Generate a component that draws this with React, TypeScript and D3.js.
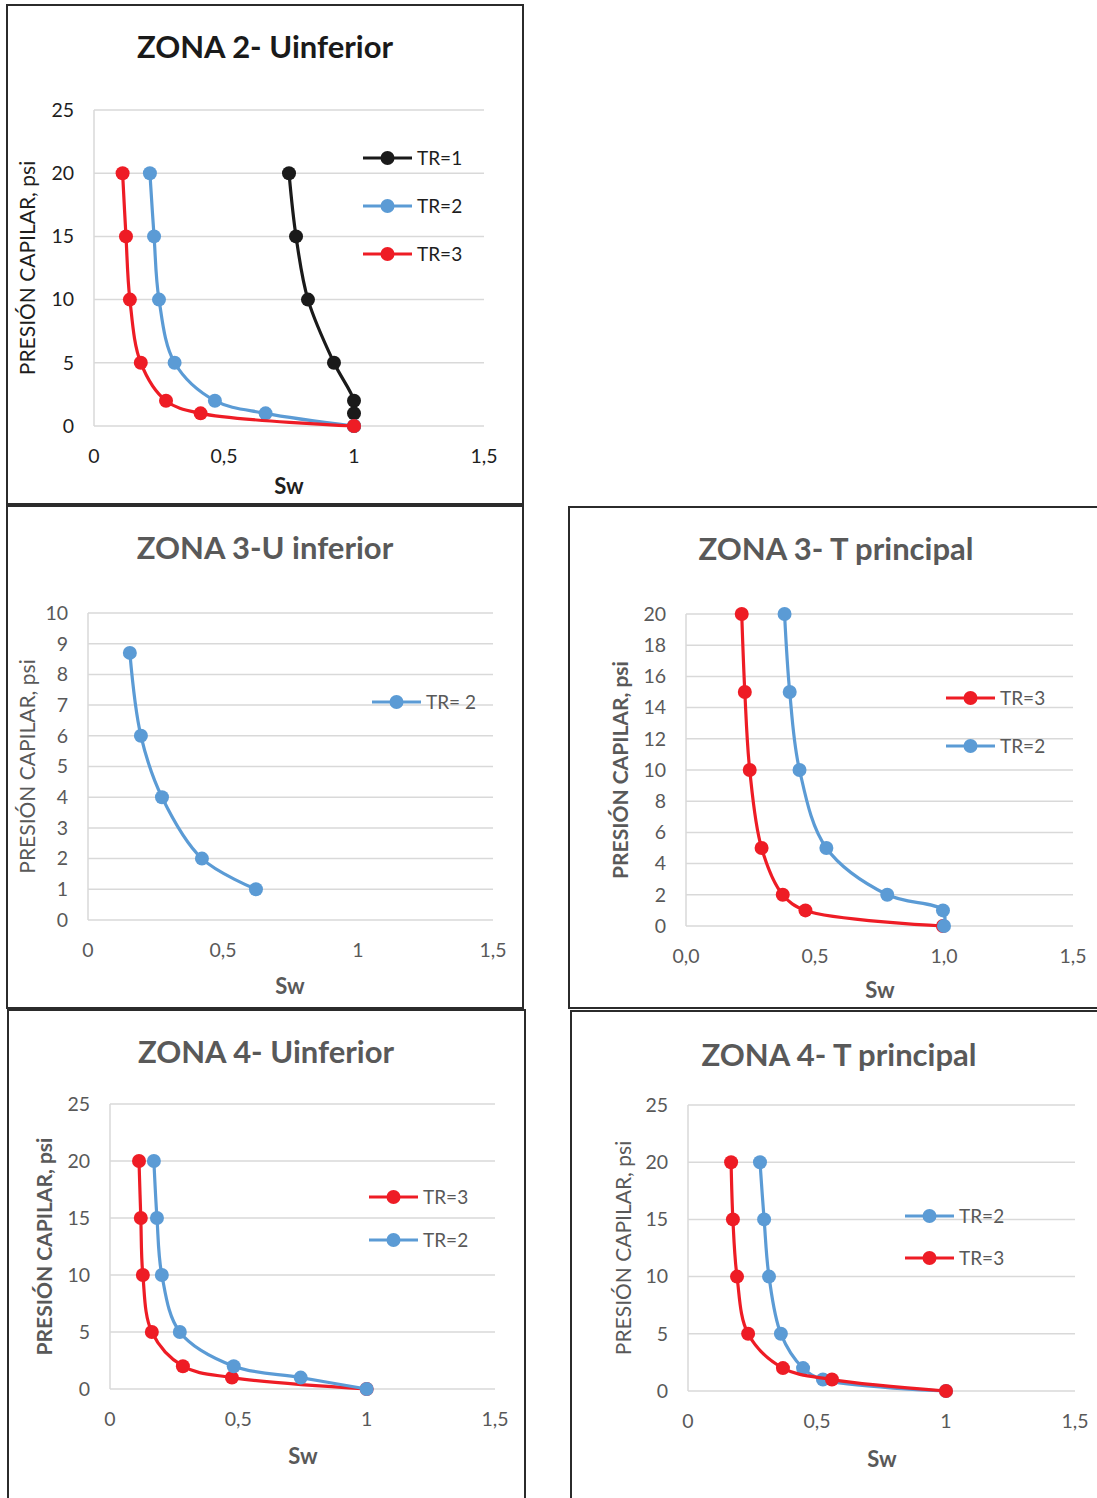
import React from "react";
import * as d3 from "d3";

// Datos (Sw, presión capilar psi)
const z2_tr1_sw = [0.75, 0.777, 0.823, 0.923, 1.0, 1.0, 1.0];
const z2_tr1_pc = [20, 15, 10, 5, 2, 1, 0];
const z2_tr2_sw = [0.215, 0.231, 0.25, 0.31, 0.465, 0.66, 1.0];
const z2_tr2_pc = [20, 15, 10, 5, 2, 1, 0];
const z2_tr3_sw = [0.11, 0.123, 0.138, 0.18, 0.277, 0.41, 1.0];
const z2_tr3_pc = [20, 15, 10, 5, 2, 1, 0];

const z3u_tr2_sw = [0.155, 0.196, 0.274, 0.422, 0.622];
const z3u_tr2_pc = [8.7, 6, 4, 2, 1];

const z3t_tr3_sw = [0.216, 0.228, 0.247, 0.293, 0.375, 0.463, 0.996];
const z3t_tr3_pc = [20, 15, 10, 5, 2, 1, 0];
const z3t_tr2_sw = [0.382, 0.402, 0.44, 0.544, 0.78, 0.996, 1.0];
const z3t_tr2_pc = [20, 15, 10, 5, 2, 1, 0];

const z4u_tr3_sw = [0.113, 0.12, 0.128, 0.163, 0.284, 0.475, 1.0];
const z4u_tr3_pc = [20, 15, 10, 5, 2, 1, 0];
const z4u_tr2_sw = [0.171, 0.183, 0.202, 0.272, 0.482, 0.743, 1.0];
const z4u_tr2_pc = [20, 15, 10, 5, 2, 1, 0];

const z4t_tr2_sw = [0.279, 0.295, 0.314, 0.36, 0.446, 0.523, 1.0];
const z4t_tr2_pc = [20, 15, 10, 5, 2, 1, 0];
const z4t_tr3_sw = [0.167, 0.174, 0.19, 0.233, 0.368, 0.558, 1.0];
const z4t_tr3_pc = [20, 15, 10, 5, 2, 1, 0];

const xTicks = [0, 0.5, 1, 1.5];
const yTicks25 = [0, 5, 10, 15, 20, 25];
const yTicks10 = [0, 1, 2, 3, 4, 5, 6, 7, 8, 9, 10];
const yTicks20 = [0, 2, 4, 6, 8, 10, 12, 14, 16, 18, 20];

const BLUE = "#5b9bd5";
const RED = "#ee1c25";
const BLACK = "#1a1a1a";
const GRAY = "#595959";
const FONT = "Lato, 'Open Sans', sans-serif";

const fmt1 = (d: number) => String(d).replace(".", ",");
const fmt2 = (d: number) => d.toFixed(1).replace(".", ",");

const panels = [
  {
    title: "ZONA 2- Uinferior", dark: true, yBold: false,
    frame: [7, 5, 523, 504], titleY: 47, titleX: 265,
    plot: [94, 484, 110, 426], yMax: 25, yTicks: yTicks25, xFmt: fmt1,
    yTitleX: 28, swY: 486, swX: 289,
    series: [
      { name: "TR=1", color: BLACK, sw: z2_tr1_sw, pc: z2_tr1_pc },
      { name: "TR=2", color: BLUE, sw: z2_tr2_sw, pc: z2_tr2_pc },
      { name: "TR=3", color: RED, sw: z2_tr3_sw, pc: z2_tr3_pc },
    ],
    drawOrder: [0, 1, 2],
    legend: { x: 363, y: 158, dy: 48 },
  },
  {
    title: "ZONA 3-U inferior", dark: false, yBold: false,
    frame: [7, 506, 523, 1008], titleY: 548, titleX: 265,
    plot: [88, 493, 613, 920], yMax: 10, yTicks: yTicks10, xFmt: fmt1,
    yTitleX: 28, swY: 986, swX: 290,
    series: [{ name: "TR= 2", color: BLUE, sw: z3u_tr2_sw, pc: z3u_tr2_pc }],
    drawOrder: [0],
    legend: { x: 372, y: 702, dy: 48 },
  },
  {
    title: "ZONA 3- T principal", dark: false, yBold: true,
    frame: [569, 507, 1100, 1008], titleY: 549, titleX: 836,
    plot: [686, 1073, 614, 926], yMax: 20, yTicks: yTicks20, xFmt: fmt2,
    yTitleX: 621, swY: 990, swX: 880,
    series: [
      { name: "TR=3", color: RED, sw: z3t_tr3_sw, pc: z3t_tr3_pc },
      { name: "TR=2", color: BLUE, sw: z3t_tr2_sw, pc: z3t_tr2_pc },
    ],
    drawOrder: [0, 1],
    legend: { x: 946, y: 698, dy: 48 },
  },
  {
    title: "ZONA 4- Uinferior", dark: false, yBold: true,
    frame: [8, 1010, 525, 1502], titleY: 1052, titleX: 266,
    plot: [110, 495, 1104, 1389], yMax: 25, yTicks: yTicks25, xFmt: fmt1,
    yTitleX: 45, swY: 1456, swX: 303,
    series: [
      { name: "TR=3", color: RED, sw: z4u_tr3_sw, pc: z4u_tr3_pc },
      { name: "TR=2", color: BLUE, sw: z4u_tr2_sw, pc: z4u_tr2_pc },
    ],
    drawOrder: [0, 1],
    legend: { x: 369, y: 1197, dy: 43 },
  },
  {
    title: "ZONA 4- T principal", dark: false, yBold: false,
    frame: [571, 1011, 1100, 1502], titleY: 1055, titleX: 839,
    plot: [688, 1075, 1105, 1391], yMax: 25, yTicks: yTicks25, xFmt: fmt1,
    yTitleX: 624, swY: 1459, swX: 882,
    series: [
      { name: "TR=2", color: BLUE, sw: z4t_tr2_sw, pc: z4t_tr2_pc },
      { name: "TR=3", color: RED, sw: z4t_tr3_sw, pc: z4t_tr3_pc },
    ],
    drawOrder: [0, 1],
    legend: { x: 905, y: 1216, dy: 42 },
  },
];

const Panel = ({ p }: { p: any }) => {
  const [x0, x1, y0, y1] = p.plot;
  const x = d3.scaleLinear().domain([0, 1.5]).range([x0, x1]);
  const y = d3.scaleLinear().domain([0, p.yMax]).range([y1, y0]);
  const line = d3
    .line<[number, number]>()
    .x((d) => x(d[0]))
    .y((d) => y(d[1]))
    .curve(d3.curveCatmullRom.alpha(0.5));
  const txt = p.dark ? "#1e1e1e" : GRAY;
  const [fx0, fy0, fx1, fy1] = p.frame;
  const yMid = (y0 + y1) / 2;
  return (
    <g>
      <rect x={fx0} y={fy0} width={fx1 - fx0} height={fy1 - fy0} fill="#fff" stroke="#2b2b2b" strokeWidth={2} />
      <text x={p.titleX} y={p.titleY} dy="0.35em" textAnchor="middle" fontSize={31} fontWeight="bold" fill={p.dark ? "#1a1a1a" : GRAY}>
        {p.title}
      </text>
      {p.yTicks.map((t: number) => (
        <g key={t}>
          <line x1={x0} x2={x1} y1={y(t)} y2={y(t)} stroke="#d9d9d9" strokeWidth={1.5} />
          <text x={x0 - 20} y={y(t)} dy="0.35em" textAnchor="end" fontSize={19.5} fill={txt}>
            {t}
          </text>
        </g>
      ))}
      <line x1={x0} x2={x0} y1={y0} y2={y1} stroke="#d9d9d9" strokeWidth={1.5} />
      {xTicks.map((t) => (
        <text key={t} x={x(t)} y={y1 + 30} dy="0.35em" textAnchor="middle" fontSize={19.5} fill={txt}>
          {p.xFmt(t)}
        </text>
      ))}
      <text
        transform={`translate(${p.yTitleX},${yMid}) rotate(-90)`}
        dy="0.35em"
        textAnchor="middle"
        fontSize={21}
        fontWeight={p.yBold ? "bold" : "normal"}
        fill={txt}
      >
        PRESIÓN CAPILAR, psi
      </text>
      <text x={p.swX} y={p.swY} dy="0.35em" textAnchor="middle" fontSize={22} fontWeight="bold" fill={txt}>
        Sw
      </text>
      {p.drawOrder.map((i: number) => {
        const s = p.series[i];
        const pts: [number, number][] = s.sw.map((v: number, k: number) => [v, s.pc[k]]);
        return (
          <g key={s.name}>
            <path d={line(pts) || ""} fill="none" stroke={s.color} strokeWidth={3.2} />
            {pts.map((d, k) => (
              <circle key={k} cx={x(d[0])} cy={y(d[1])} r={7} fill={s.color} />
            ))}
          </g>
        );
      })}
      {p.series.map((s: any, i: number) => {
        const ly = p.legend.y + i * p.legend.dy;
        return (
          <g key={"lg" + i}>
            <line x1={p.legend.x} x2={p.legend.x + 49} y1={ly} y2={ly} stroke={s.color} strokeWidth={3.2} />
            <circle cx={p.legend.x + 24.5} cy={ly} r={7} fill={s.color} />
            <text x={p.legend.x + 54} y={ly} dy="0.35em" fontSize={19} fill={txt}>
              {s.name}
            </text>
          </g>
        );
      })}
    </g>
  );
};

export default function App() {
  return (
    <svg
      width={1097}
      height={1498}
      style={{ position: "absolute", left: 0, top: 0, fontFamily: FONT, background: "#fff" }}
    >
      {panels.map((p) => (
        <Panel key={p.title} p={p} />
      ))}
    </svg>
  );
}
